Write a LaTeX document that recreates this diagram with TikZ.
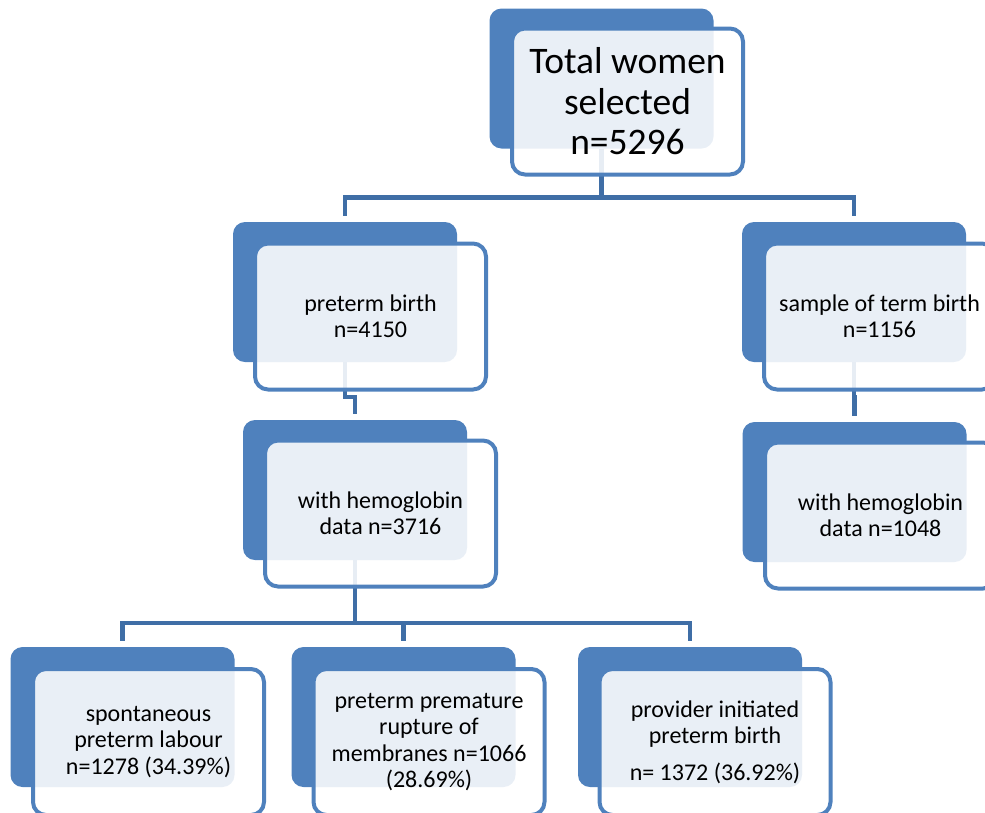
\documentclass[tikz,border=0pt]{standalone}
\usepackage{fontspec}
\setmainfont{Carlito}
\definecolor{boxblue}{HTML}{4F81BD}
\definecolor{linkblue}{HTML}{3F6EA6}
\begin{document}
\begin{tikzpicture}[x=1pt,y=-1pt,
 backbox/.style={rectangle, rounded corners=12pt, fill=boxblue, minimum width=224pt, minimum height=140pt, inner sep=0pt},
 frontbox/.style={rectangle, rounded corners=13pt, draw=boxblue, line width=4pt, fill=white, fill opacity=0.88, text opacity=1, draw opacity=1, minimum width=231pt, minimum height=146pt, inner sep=0pt, align=center, font=\fontsize{24}{26.4}\selectfont, text=black},
 conn/.style={draw=linkblue, line width=4.5pt, shorten >=6pt}
]
\useasboundingbox (0,0) rectangle (985,812);
\clip (0,0) rectangle (985,812);

% back boxes
\node[backbox] (bA) at (601.5,78.5) {};
\node[backbox] (bB) at (345,292) {};
\node[backbox] (bC) at (854,292) {};
\node[backbox] (bD) at (355,490) {};
\node[backbox] (bE) at (854.5,492) {};
\node[backbox] (bF) at (122.5,717) {};
\node[backbox] (bG) at (403.5,717) {};
\node[backbox] (bH) at (690,717) {};

% connectors
\draw[conn] (bA.south) -- ++(0,49) -| (bB.north);
\draw[conn] (bA.south) -- ++(0,49) -| (bC.north);
\draw[conn] (bB.south) -- ++(0,35) -| (bD.north);
\draw[conn] (bC.south) -- ++(0,35) -| (bE.north);
\draw[conn] (bD.south) -- ++(0,63) -| (bF.north);
\draw[conn] (bD.south) -- ++(0,63) -| (bG.north);
\draw[conn] (bD.south) -- ++(0,63) -| (bH.north);

% front boxes
\node[frontbox, font=\fontsize{37.5}{40.5}\selectfont] (fA) at (627.5,101.5) {Total women\\selected\\n=5296};
\node[frontbox] (fB) at (370.5,316.5) {preterm birth\\n=4150};
\node[frontbox] (fC) at (879.5,316.5) {sample of term birth\\n=1156};
\node[frontbox] (fD) at (380.5,513.5) {with hemoglobin\\data n=3716};
\node[frontbox] (fE) at (880.5,515.5) {with hemoglobin\\data n=1048};
\node[frontbox] (fF) at (148.5,742) {spontaneous\\preterm labour\\n=1278 (34.39\%)};
\node[frontbox] (fG) at (429,742) {preterm premature\\rupture of\\membranes n=1066\\(28.69\%)};
\node[frontbox] (fH) at (715,742) {provider initiated\\preterm birth\\[10pt]n= 1372 (36.92\%)};
\end{tikzpicture}
\end{document}
